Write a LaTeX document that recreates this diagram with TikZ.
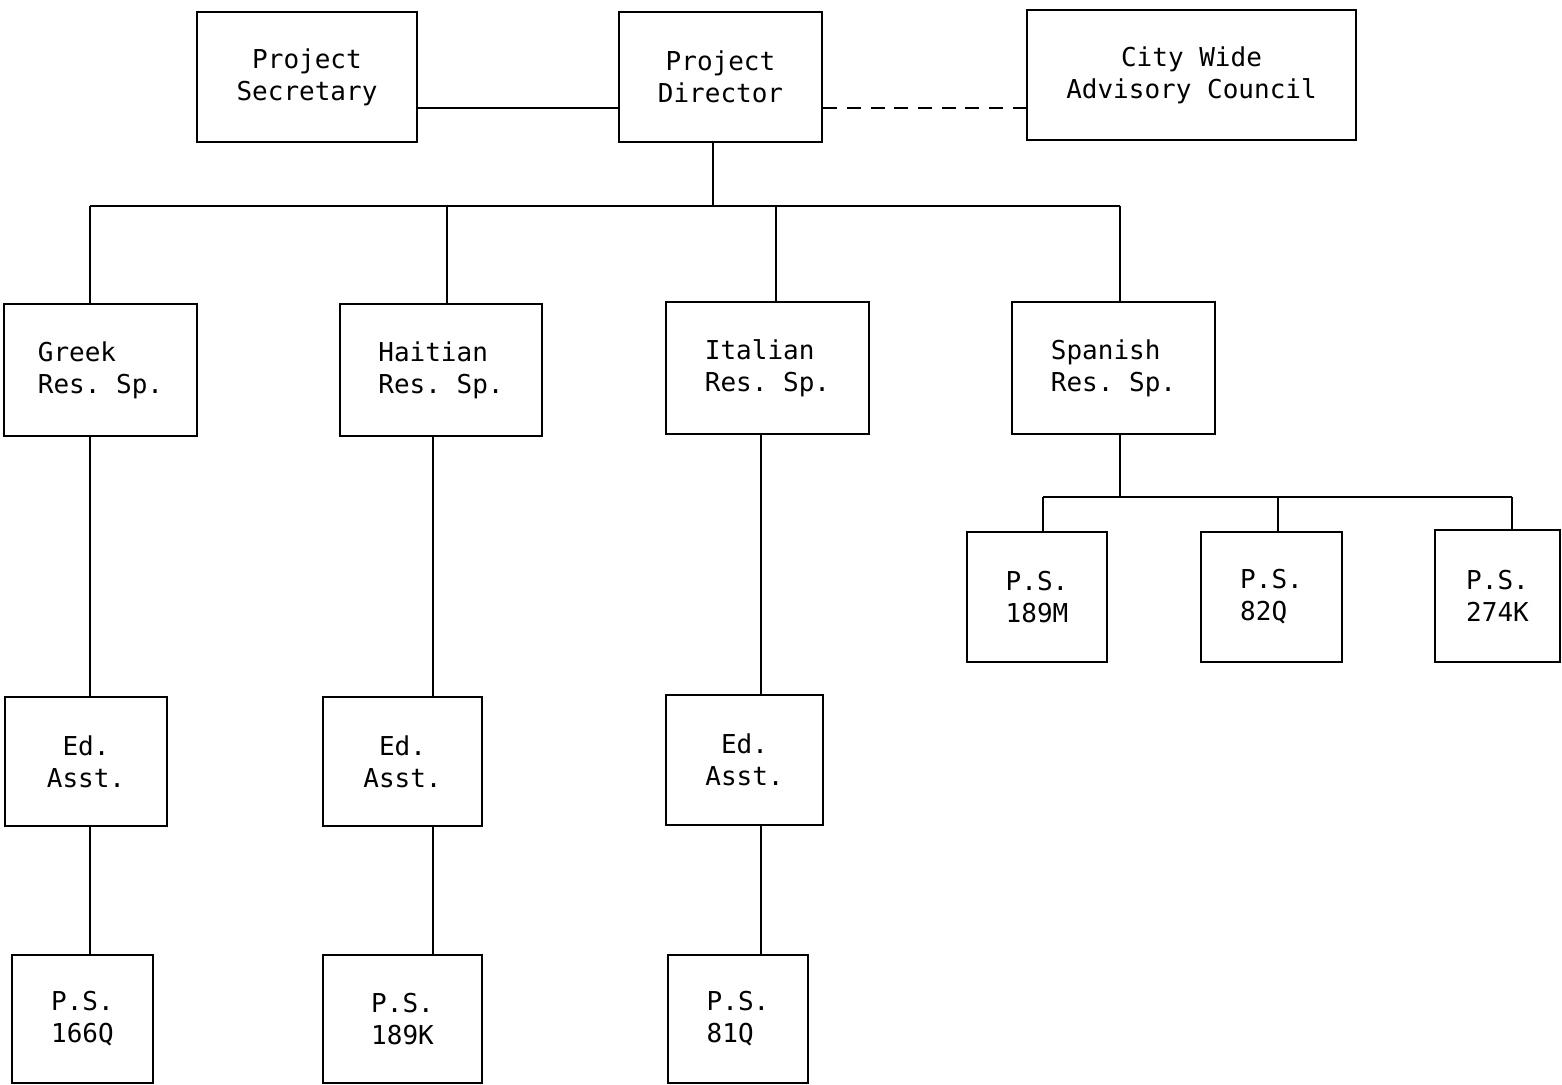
\documentclass[tikz,border=0pt]{standalone}
\usepackage{fontspec}
\setmonofont{DejaVu Sans Mono}
\usepackage{tikz}
\usetikzlibrary{calc}
\tikzstyle{OrgBox}=[rectangle, draw=black, line width=1.2pt, inner sep=0pt, font=\ttfamily\fontsize{14.8}{18.2}\selectfont]
\tikzstyle{MidBox}=[OrgBox, align=center]
\tikzstyle{LeftBox}=[OrgBox, align=left]
\tikzstyle{Link}=[line width=0.85pt]
\tikzstyle{LooseLink}=[Link, dash pattern=on 8pt off 5.5pt]

\begin{document}
\begin{tikzpicture}[x=0.02cm, y=-0.02cm]
\useasboundingbox (0,0) rectangle (1562,1085);

% top row
\node[MidBox, minimum width=220*0.02cm, minimum height=130*0.02cm](SEC) at (307,77) {Project\\Secretary};
\node[MidBox, minimum width=203*0.02cm, minimum height=130*0.02cm](DIR) at (720.5,77) {Project\\Director};
\node[MidBox, minimum width=329*0.02cm, minimum height=130*0.02cm](CWAC) at (1191.5,75) {City Wide\\Advisory Council};

% resource specialists
\node[LeftBox, minimum width=193*0.02cm, minimum height=132*0.02cm](GRK) at (100.5,370) {Greek\\Res. Sp.};
\node[LeftBox, minimum width=202*0.02cm, minimum height=132*0.02cm](HAI) at (441,370) {Haitian\\Res. Sp.};
\node[LeftBox, minimum width=203*0.02cm, minimum height=132*0.02cm](ITA) at (767.5,368) {Italian\\Res. Sp.};
\node[LeftBox, minimum width=203*0.02cm, minimum height=132*0.02cm](SPA) at (1113.5,368) {Spanish\\Res. Sp.};

% spanish schools
\node[LeftBox, minimum width=140*0.02cm, minimum height=130*0.02cm](PS189M) at (1037,597) {P.S.\\189M};
\node[LeftBox, minimum width=141*0.02cm, minimum height=130*0.02cm](PS82Q) at (1271.5,597) {P.S.\\82Q};
\node[LeftBox, minimum width=125*0.02cm, minimum height=132*0.02cm](PS274K) at (1497.5,596) {P.S.\\274K};

% educational assistants
\node[MidBox, minimum width=162*0.02cm, minimum height=129*0.02cm](EDG) at (86,761.5) {Ed.\\Asst.};
\node[MidBox, minimum width=159*0.02cm, minimum height=129*0.02cm](EDH) at (402.5,761.5) {Ed.\\Asst.};
\node[MidBox, minimum width=157*0.02cm, minimum height=130*0.02cm](EDI) at (744.5,760) {Ed.\\Asst.};

% schools
\node[LeftBox, minimum width=141*0.02cm, minimum height=128*0.02cm](PS166Q) at (82.5,1019) {P.S.\\166Q};
\node[LeftBox, minimum width=159*0.02cm, minimum height=128*0.02cm](PS189K) at (402.5,1019) {P.S.\\189K};
\node[LeftBox, minimum width=140*0.02cm, minimum height=128*0.02cm](PS81Q) at (738,1019) {P.S.\\81Q};

% helper coordinates
\coordinate (TopLine) at (0,108);
\coordinate (Bus) at (713,206);
\coordinate (SpaBus) at (1120,497);
\coordinate (GX) at (90,0);
\coordinate (HX) at (447,0);
\coordinate (HX2) at (433,0);
\coordinate (IX) at (776,0);
\coordinate (IX2) at (761,0);
\coordinate (SX) at (1120,0);
\coordinate (S1) at (1043,0);
\coordinate (S2) at (1278,0);
\coordinate (S3) at (1512,0);

\draw[Link](SEC.east |- TopLine) -- (DIR.west |- TopLine);
\draw[LooseLink](DIR.east |- TopLine) -- (CWAC.west |- TopLine);

\draw[Link](DIR.south -| Bus) -- (Bus);
\draw[Link](GX |- Bus) -- (SX |- Bus);
\draw[Link](GX |- Bus) -- (GRK.north -| GX);
\draw[Link](HX |- Bus) -- (HAI.north -| HX);
\draw[Link](IX |- Bus) -- (ITA.north -| IX);
\draw[Link](SX |- Bus) -- (SPA.north -| SX);

\draw[Link](GRK.south -| GX) -- (EDG.north -| GX);
\draw[Link](HAI.south -| HX2) -- (EDH.north -| HX2);
\draw[Link](ITA.south -| IX2) -- (EDI.north -| IX2);

\draw[Link](EDG.south -| GX) -- (PS166Q.north -| GX);
\draw[Link](EDH.south -| HX2) -- (PS189K.north -| HX2);
\draw[Link](EDI.south -| IX2) -- (PS81Q.north -| IX2);

\draw[Link](SPA.south -| SX) -- (SpaBus);
\draw[Link](S1 |- SpaBus) -- (S3 |- SpaBus);
\draw[Link](S1 |- SpaBus) -- (PS189M.north -| S1);
\draw[Link](S2 |- SpaBus) -- (PS82Q.north -| S2);
\draw[Link](S3 |- SpaBus) -- (PS274K.north -| S3);

\end{tikzpicture}
\end{document}
